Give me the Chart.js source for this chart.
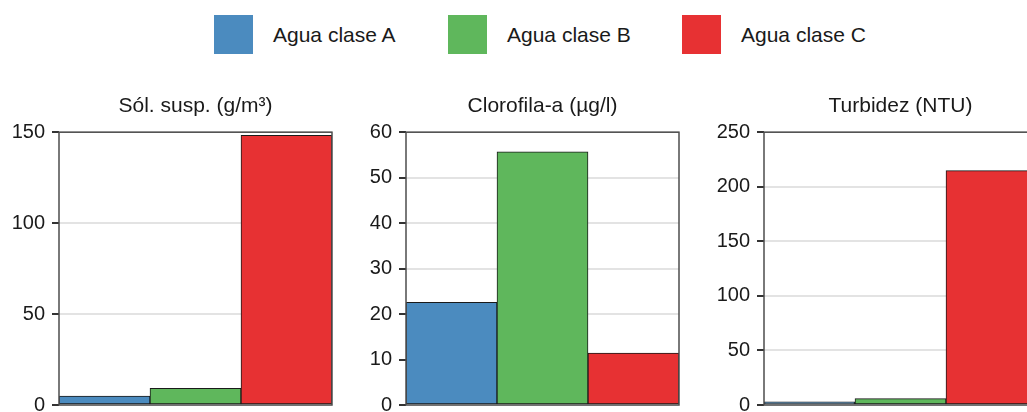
<!DOCTYPE html>
<html>
<head>
<meta charset="utf-8">
<script src="https://cdn.jsdelivr.net/npm/chart.js@4"></script>
<style>
    html, body { margin: 0; padding: 0; background: #fff; }
    body { width: 1027px; height: 412px; overflow: hidden; position: relative; font-family: "Liberation Sans", Arial, sans-serif; }
    .legend { position: absolute; left: 214px; top: 15px; display: flex; }
    .legend-item { width: 234px; display: flex; align-items: center; }
    .swatch { width: 39px; height: 39px; }
    .legend-item span { margin-left: 20px; font-size: 21px; color: #1a1a1a; }
    canvas { position: absolute; }
</style>
</head>
<body>
<div class="legend" id="legend"></div>

<script>
const classes = ["Agua clase A", "Agua clase B", "Agua clase C"];
const colors = ["#4B8BBF", "#5FB75C", "#E73133"];

const titles = ["Sól. susp. (g/m³)", "Clorofila-a (µg/l)", "Turbidez (NTU)"];
const solidos = [4.9, 9.2, 148.3];
const clorofila = [22.6, 55.7, 11.4];
const turbidez = [2.8, 5.8, 214.8];
const yMax = [150, 60, 250];
const yStep = [50, 10, 50];

const series = [solidos, clorofila, turbidez];

// legend
const legend = document.getElementById("legend");
classes.forEach((name, i) => {
    const item = document.createElement("div");
    item.className = "legend-item";
    item.innerHTML = `<div class="swatch" style="background:${colors[i]}"></div><span>${name}</span>`;
    legend.appendChild(item);
});

const framePlugin = {
    id: "frame",
    afterDatasetsDraw(chart) {
        const { ctx, chartArea: a } = chart;
        ctx.save();
        ctx.strokeStyle = "#4d4d4d";
        ctx.lineWidth = 1.5;
        ctx.strokeRect(a.left, a.top, a.right - a.left, a.bottom - a.top);
        ctx.restore();
    }
};

const plotLefts = [59, 406, 764];
const axisWidth = 70;
const plotWidth = 273;
const canvasTop = 80;
const canvasHeight = 370;
const plotBottom = 405;

series.forEach((values, p) => {
    const canvas = document.createElement("canvas");
    canvas.width = axisWidth + plotWidth + 10;
    canvas.height = canvasHeight;
    canvas.style.left = (plotLefts[p] - axisWidth) + "px";
    canvas.style.top = canvasTop + "px";
    document.body.appendChild(canvas);

    new Chart(canvas, {
        type: "bar",
        data: {
            labels: classes,
            datasets: [{
                data: values,
                backgroundColor: colors,
                borderColor: "#1a1a1a",
                borderWidth: 1,
                borderSkipped: false,
                categoryPercentage: 1,
                barPercentage: 1
            }]
        },
        options: {
            responsive: false,
            animation: false,
            devicePixelRatio: 1,
            layout: {
                padding: { left: 0, right: 10, top: 0, bottom: canvasTop + canvasHeight - plotBottom }
            },
            plugins: {
                legend: { display: false },
                tooltip: { enabled: false },
                title: {
                    display: true,
                    text: titles[p],
                    fullSize: false,
                    color: "#1a1a1a",
                    font: { family: "'Liberation Sans', Arial, sans-serif", size: 21, weight: "normal" },
                    padding: { top: 14, bottom: 13 }
                }
            },
            scales: {
                x: {
                    display: false,
                    offset: true,
                    grid: { display: false }
                },
                y: {
                    min: 0,
                    max: yMax[p],
                    afterFit(scale) { scale.width = axisWidth; },
                    border: { display: false },
                    grid: {
                        color: "#e3e3e3",
                        lineWidth: 2,
                        tickColor: "#333",
                        tickLength: 7,
                        tickWidth: 2
                    },
                    ticks: {
                        stepSize: yStep[p],
                        color: "#1a1a1a",
                        padding: 7,
                        font: { family: "'Liberation Sans', Arial, sans-serif", size: 20 }
                    }
                }
            }
        },
        plugins: [framePlugin]
    });
});
</script>
</body>
</html>
